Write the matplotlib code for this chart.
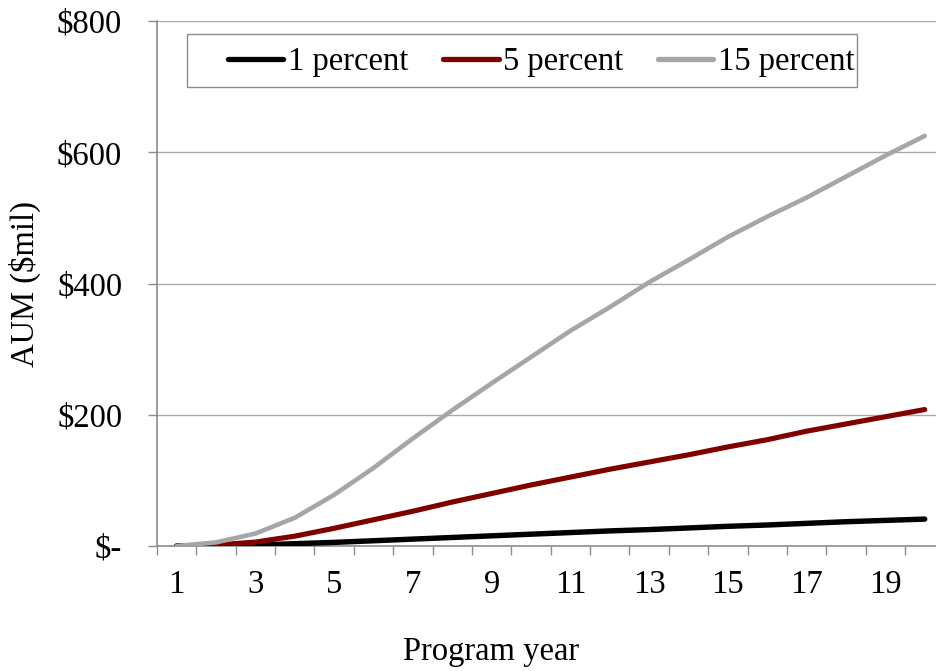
import matplotlib
matplotlib.use("Agg")
import matplotlib.pyplot as plt
from matplotlib.patches import Rectangle
from matplotlib.ticker import FixedLocator, FuncFormatter

plt.rcParams['font.family'] = ['Liberation Serif', 'DejaVu Serif']

# Assets under management ($ millions) by program year, for three take-up rates
years = list(range(1, 21))
one_percent = [0, 0.5, 1.5, 3.5, 5.5, 8, 10.5, 13, 15.5, 18,
               20.5, 23, 25, 27.5, 30, 32, 34.5, 37, 39, 41]
five_percent = [0, 1.5, 6, 15, 27, 40, 53, 67, 80, 93,
                105, 117, 128, 139, 151, 162, 175, 186, 197, 208]
fifteen_percent = [0, 5.5, 19, 43, 78, 119, 164, 207, 248, 288,
                   328, 364, 402, 436, 471, 502, 531, 563, 595, 625]
series_labels = ["1 percent", "5 percent", "15 percent"]
y_ticks = [0, 200, 400, 600, 800]
x_tick_labels = [1, 3, 5, 7, 9, 11, 13, 15, 17, 19]

W, H = 936, 671
fig = plt.figure(figsize=(W / 100, H / 100), dpi=100)
ax = fig.add_axes([157 / W, (H - 546) / H, 787.4 / W, 524.9 / H])

fs = 23.5
axis_grey = "#8c8c8c"
grid_grey = "#a8a8a8"

ax.plot(years, one_percent, color="#000000", lw=3.9, solid_capstyle="round",
        solid_joinstyle="round", label=series_labels[0], zorder=3)
ax.plot(years, five_percent, color="#800000", lw=3.7, solid_capstyle="round",
        solid_joinstyle="round", label=series_labels[1], zorder=4)
ax.plot(years, fifteen_percent, color="#a6a6a6", lw=3.3, solid_capstyle="round",
        solid_joinstyle="round", label=series_labels[2], zorder=5)

ax.set_xlim(0.5, 20.5)
ax.set_ylim(0, 800)

# Horizontal gridlines
ax.yaxis.set_major_locator(FixedLocator(y_ticks))
ax.grid(axis="y", color=grid_grey, lw=1.0)
ax.set_axisbelow(True)

ax.yaxis.set_major_formatter(FuncFormatter(lambda v, p: "$-" if v == 0 else f"${v:,.0f}"))
ax.tick_params(axis="y", which="major", direction="out", length=6.5, width=1,
               color=axis_grey, pad=18.5, labelsize=fs)

# Category axis: tick marks between categories, labels on every other year
ax.xaxis.set_major_locator(FixedLocator(x_tick_labels))
ax.xaxis.set_minor_locator(FixedLocator([y + 0.5 for y in range(0, 21)]))
ax.set_xticklabels([str(v) for v in x_tick_labels])
ax.tick_params(axis="x", which="major", length=0, pad=17, labelsize=fs)
ax.tick_params(axis="x", which="minor", direction="out", length=6.5, width=1,
               color=axis_grey)

for side in ("top", "right"):
    ax.spines[side].set_visible(False)
for side in ("left", "bottom"):
    ax.spines[side].set_color(axis_grey)
    ax.spines[side].set_linewidth(1.2)

fig.text(25 / W, 1 - 284 / H, "AUM ($mil)", rotation=90, ha="center",
         va="center", fontsize=fs)
fig.text(491 / W, 1 - 652 / H, "Program year", ha="center", va="center",
         fontsize=fs)

# Legend box drawn as a rectangle in figure coordinates, entries placed inside it
box = Rectangle((187 / W, 1 - 87 / H), (857 - 187) / W, 53 / H,
                transform=fig.transFigure, facecolor="white",
                edgecolor=axis_grey, lw=1.0, zorder=10, clip_on=False)
ax.add_patch(box)
leg = ax.legend(loc="center left", bbox_to_anchor=(228 / W, 1 - 62 / H),
                bbox_transform=fig.transFigure, ncol=3, fontsize=fs,
                frameon=False, handlelength=1.7,
                handletextpad=0.15, columnspacing=1.05, borderpad=0,
                borderaxespad=0)
leg.set_zorder(11)
for line in leg.get_lines():
    line.set_linewidth(3.8)

fig.savefig("out.png", dpi=100)
